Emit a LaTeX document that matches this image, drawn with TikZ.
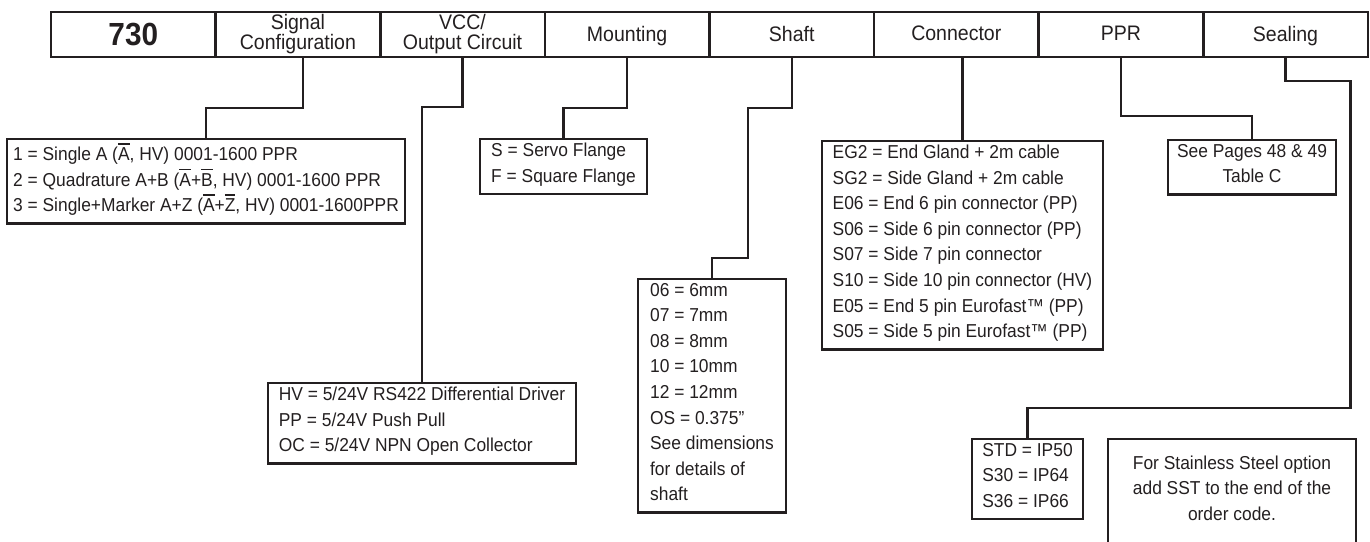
\documentclass[tikz,border=0pt]{standalone}
\usepackage{fontspec}
\setmainfont{Liberation Sans}[FakeStretch=0.93]
\usetikzlibrary{positioning}
\definecolor{ink}{HTML}{231F20}
\newcommand\ovl[1]{\setbox0=\hbox{#1}\rlap{\rule[0.86em]{\wd0}{1.7pt}}\box0}
\tikzset{
  every picture/.style={x=1pt, y=-1pt},
  hcell/.style={draw=ink, line width=2.6pt, minimum width=164.6pt, minimum height=45pt, inner xsep=2pt, inner ysep=1pt,
    outer sep=0pt, align=center, text=ink, font=\fontsize{21}{20}\selectfont, text depth=.22em},
  optbox/.style={draw=ink, line width=2.6pt, anchor=north west, minimum width=#1, inner xsep=0pt, inner ysep=4pt,
    outer sep=0pt, align=left, text=ink, font=\fontsize{18.7}{25.6}\selectfont, execute at begin node=\strut, execute at end node=\strut},
  link/.style={draw=ink, line width=2.3pt},
}

\begin{document}
\begin{tikzpicture}
  \clip (0,0) rectangle (1370,541);
  % order code header
  \node[hcell, anchor=north west, font=\fontsize{32}{34}\selectfont\bfseries, text depth=0pt] (h1) at (51,12) {730};
  \node[hcell, right=0pt of h1, text depth=] (h2) {Signal\\Configuration};
  \node[hcell, right=0pt of h2, text depth=] (h3) {VCC/\\Output Circuit};
  \node[hcell, right=0pt of h3] (h4) {Mounting};
  \node[hcell, right=0pt of h4] (h5) {Shaft};
  \node[hcell, right=0pt of h5] (h6) {Connector};
  \node[hcell, right=0pt of h6] (h7) {PPR};
  \node[hcell, right=0pt of h7] (h8) {Sealing};
  % option boxes
  \node[optbox=398pt] (sig) at (7,139) {1 = Single A (\ovl{A}, HV) 0001-1600 PPR\\2 = Quadrature A+B (\ovl{A}+\ovl{B}, HV) 0001-1600 PPR\\3 = Single+Marker A+Z (\ovl{A}+\ovl{Z}, HV) 0001-1600PPR};
  \node[optbox=308pt] (vcc) at (268,383) {HV = 5/24V RS422 Differential Driver\\PP = 5/24V Push Pull\\OC = 5/24V NPN Open Collector};
  \node[optbox=167pt] (mnt) at (480,139) {S = Servo Flange\\F = Square Flange};
  \node[optbox=148pt] (shaft) at (638,279) {06 = 6mm\\07 = 7mm\\08 = 8mm\\10 = 10mm\\12 = 12mm\\OS = 0.375”\\See dimensions\\for details of\\shaft};
  \node[optbox=281pt] (conn) at (822,141) {EG2 = End Gland + 2m cable\\SG2 = Side Gland + 2m cable\\E06 = End 6 pin connector (PP)\\S06 = Side 6 pin connector (PP)\\S07 = Side 7 pin connector\\S10 = Side 10 pin connector (HV)\\E05 = End 5 pin Eurofast™ (PP)\\S05 = Side 5 pin Eurofast™ (PP)};
  \node[optbox=168pt, align=center] (ppr) at (1168,140) {See Pages 48 \& 49\\Table C};
  \node[optbox=111pt] (seal) at (972,439) {STD = IP50\\S30 = IP64\\S36 = IP66};
  \node[optbox=248pt, align=center, inner ysep=16.8pt] (sst) at (1108,439) {For Stainless Steel option\\add SST to the end of the\\order code.};
  % links from header to boxes
  \draw[link] ([xshift=5pt]h2.south) -- ++(0,51) -| (sig.north);
  \draw[link] (h3.south) -- ++(0,50) -| (vcc.north);
  \draw[link] (h4.south) -- ++(0,51) -| (mnt.north);
  \draw[link] (h5.south) -- ++(0,51) -| ++(-44,150) -| (shaft.north);
  \draw[link] (conn.north |- h6.south) -- (conn.north);
  \draw[link] (h7.south) -- ++(0,59) -| (ppr.north);
  \draw[link] (h8.south) -- ++(0,24) -| ++(65,327) -| (seal.north);
\end{tikzpicture}
\end{document}
